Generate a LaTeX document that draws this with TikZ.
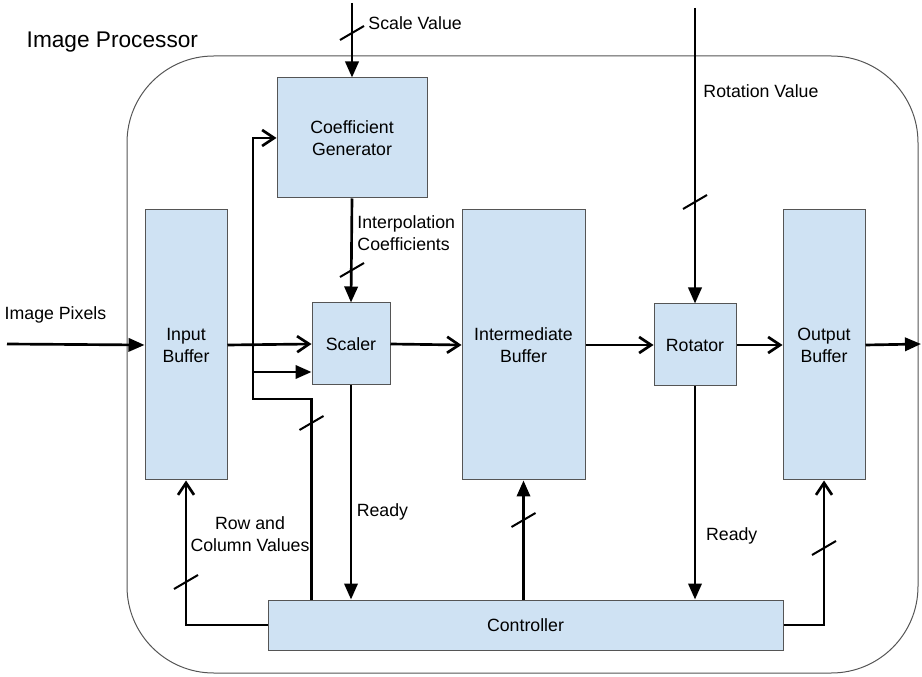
\documentclass[tikz,border=0pt]{standalone}
\usepackage{fontspec}
\setmainfont{Liberation Sans}
\usetikzlibrary{arrows.meta,calc}
\definecolor{blockblue}{HTML}{CFE2F3}
\definecolor{edgegray}{HTML}{555555}
\newcommand{\busmark}[1]{\draw[BusCfg] (#1) ++(-12,7) -- ++(24,-14);}

\begin{document}
\begin{tikzpicture}[
        %Environment config
        x=0.75pt, y=-0.75pt,
        font=\fontsize{13.3}{16.5}\selectfont,
        %Environment styles
        BlockCfg/.style 2 args={
            draw=edgegray, fill=blockblue, line width=0.75pt,
            minimum width=#1*0.75pt, minimum height=#2*0.75pt,
            align=center, inner sep=0pt
        },
        WireCfg/.style={line width=2pt},
        FillArrow/.style={WireCfg, -{Triangle[length=12pt,width=10pt]}},
        OpenArrow/.style={WireCfg, -{Straight Barb[length=9pt,width=12pt]}},
        BusCfg/.style={line width=1.5pt}
    ]
    \useasboundingbox (0,0) rectangle (922,677);

    % enclosing box
    \draw[edgegray, line width=0.75pt, rounded corners=65pt] (127,56) rectangle (918,673);
    \node[anchor=west, font=\fontsize{17}{20}\selectfont] (Title) at (22,42) {Image Processor};

    \path
        (186,345) node[BlockCfg={82}{270}] (InBuf) {Input\\Buffer}
        (352,138) node[BlockCfg={150}{120}] (CoefGen) {Coefficient\\Generator}
        (351,344) node[BlockCfg={78}{82}] (Scaler) {Scaler}
            ++ (172.5,1) node[BlockCfg={123}{270}] (IntBuf) {Intermediate\\Buffer}
            ++ (171.5,0) node[BlockCfg={82}{82}] (Rotator) {Rotator}
            ++ (129,0) node[BlockCfg={82}{270}] (OutBuf) {Output\\Buffer}
        (525.5,625) node[BlockCfg={515}{50}] (Ctrl) {Controller};

    \coordinate (PixIn) at (7,344);
    \coordinate (PixOut) at (921,344);
    \coordinate (ScaleIn) at (352,3);
    \coordinate (RotIn) at (695,8);
    \coordinate (tap) at (253,399);

    % data path
    \draw[FillArrow] (PixIn) -- (InBuf.west);
    \draw[OpenArrow] (InBuf.east) -- (Scaler.west);
    \draw[OpenArrow] (Scaler.east) -- (IntBuf.west);
    \draw[OpenArrow] (IntBuf.east) -- (Rotator.west);
    \draw[OpenArrow] (Rotator.east) -- (OutBuf.west);
    \draw[FillArrow] (OutBuf.east) -- (PixOut);
    \node[anchor=west] (PixLabel) at (0,315) {Image Pixels};

    % parameters
    \draw[FillArrow] (ScaleIn) -- (CoefGen.north)
        node[pos=0.27, anchor=west, xshift=8pt] {Scale Value};
    \draw[FillArrow] (CoefGen.south) -- (Scaler.north)
        node[pos=0.33, anchor=west, align=left] {Interpolation\\Coefficients};
    \draw[FillArrow] (RotIn) -- (Rotator.north)
        node[pos=0.28, anchor=west, xshift=2pt] {Rotation Value};

    % control
    \draw[FillArrow] (Scaler.south) -- (Scaler.south |- Ctrl.north)
        node[pos=0.59, anchor=west] {Ready};
    \draw[FillArrow] (Rotator.south) -- (Rotator.south |- Ctrl.north)
        node[pos=0.70, anchor=west, xshift=4pt] {Ready};
    \draw[FillArrow] (IntBuf.south |- Ctrl.north) -- (IntBuf.south);
    \draw[OpenArrow] (Ctrl.west) -| (InBuf.south);
    \draw[OpenArrow] (Ctrl.east) -| (OutBuf.south);
    \node[align=center] (RowLabel) at (250,534) {Row and\\Column Values};

    \draw[OpenArrow] (Scaler.west |- Ctrl.north) |- (tap) |- (CoefGen.west);
    \draw[FillArrow] (tap |- 0,372) -- (Scaler.west |- 0,372);

    % bus widths
    \busmark{ScaleIn |- 0,33}
    \busmark{CoefGen.south |- 0,270}
    \busmark{RotIn |- 0,202}
    \busmark{Scaler.west |- 0,423}
    \busmark{InBuf.south |- 0,582}
    \busmark{IntBuf.south |- 0,520}
    \busmark{OutBuf.south |- 0,548}
\end{tikzpicture}
\end{document}
